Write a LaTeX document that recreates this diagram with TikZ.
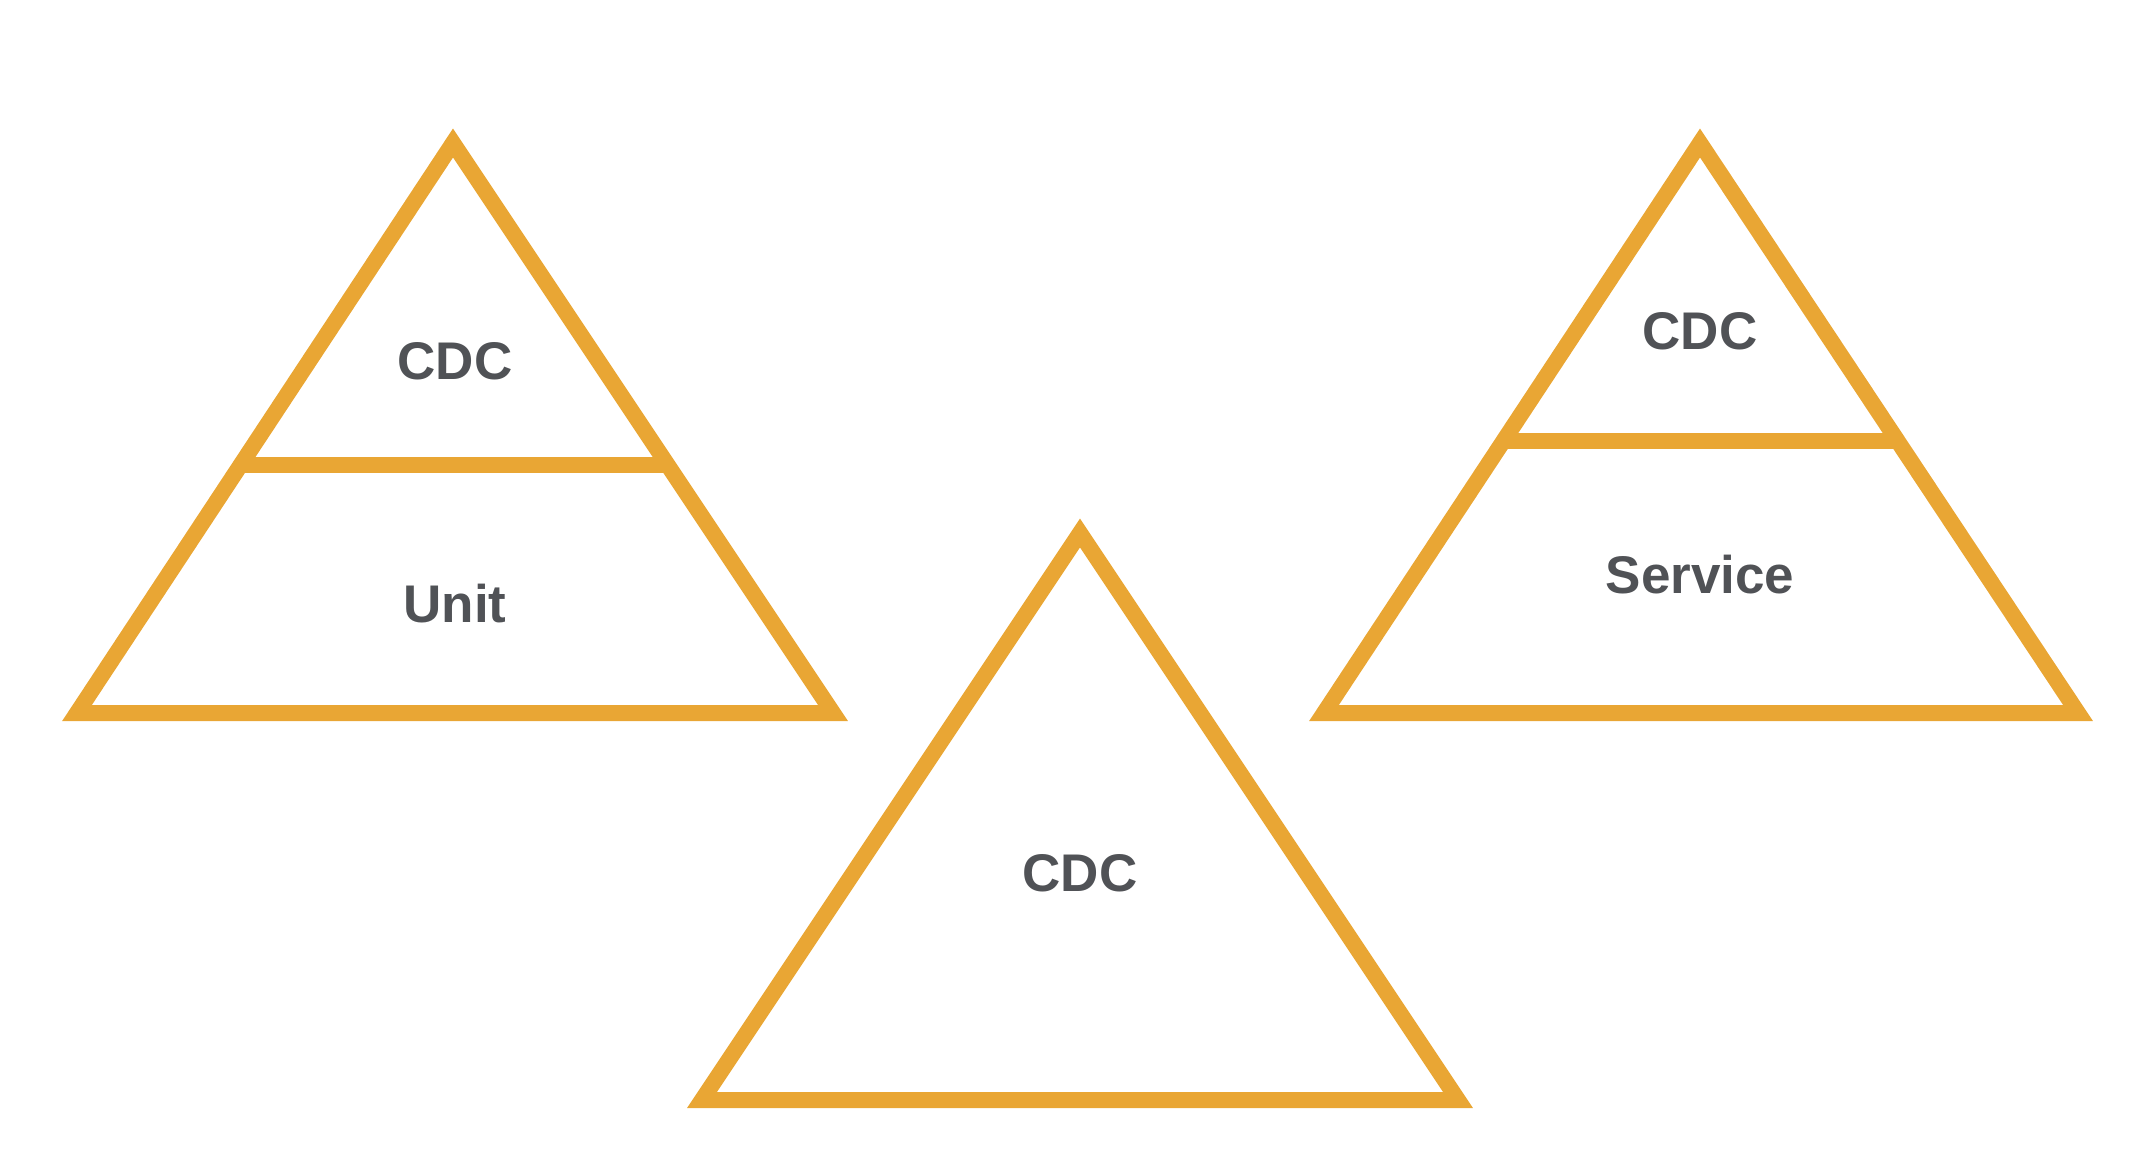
\documentclass[tikz,border=0pt]{standalone}
\usepackage{fontspec}
\setmainfont{Liberation Sans}
\usetikzlibrary{calc}
\definecolor{chalk}{HTML}{E9A634}
\definecolor{txt}{HTML}{505256}
\begin{document}
\begin{tikzpicture}[x=1pt,y=-1pt,
  tri/.style={draw=chalk,line width=16pt,line join=miter,miter limit=3},
  lbl/.style={text=txt,font=\fontsize{10}{12}\selectfont\bfseries,inner sep=0pt,scale=5.3}]
\useasboundingbox (0,0) rectangle (2150,1168);
% left pyramid
\coordinate (la) at (453,143);
\coordinate (lb) at (77,713);
\coordinate (lc) at (833,713);
\draw[tri] (la) -- (lb) -- (lc) -- cycle;
\coordinate (ld1) at ($(la)!0.565!(lb)$);
\coordinate (ld2) at ($(la)!0.565!(lc)$);
\draw[tri] (ld1) -- (ld2);
\node[lbl] (l1) at (455,361) {CDC};
\node[lbl] (l2) at (455,604) {Unit};
% middle pyramid
\coordinate (ma) at (1080,533);
\coordinate (mb) at (702,1100);
\coordinate (mc) at (1458,1100);
\draw[tri] (ma) -- (mb) -- (mc) -- cycle;
\node[lbl] (m1) at (1080,873) {CDC};
% right pyramid
\coordinate (ra) at (1700,143);
\coordinate (rb) at (1324,713);
\coordinate (rc) at (2078,713);
\draw[tri] (ra) -- (rb) -- (rc) -- cycle;
\coordinate (rd1) at ($(ra)!0.522!(rb)$);
\coordinate (rd2) at ($(ra)!0.522!(rc)$);
\draw[tri] (rd1) -- (rd2);
\node[lbl] (r1) at (1700,331) {CDC};
\node[lbl] (r2) at (1700,575) {Service};
\end{tikzpicture}
\end{document}
